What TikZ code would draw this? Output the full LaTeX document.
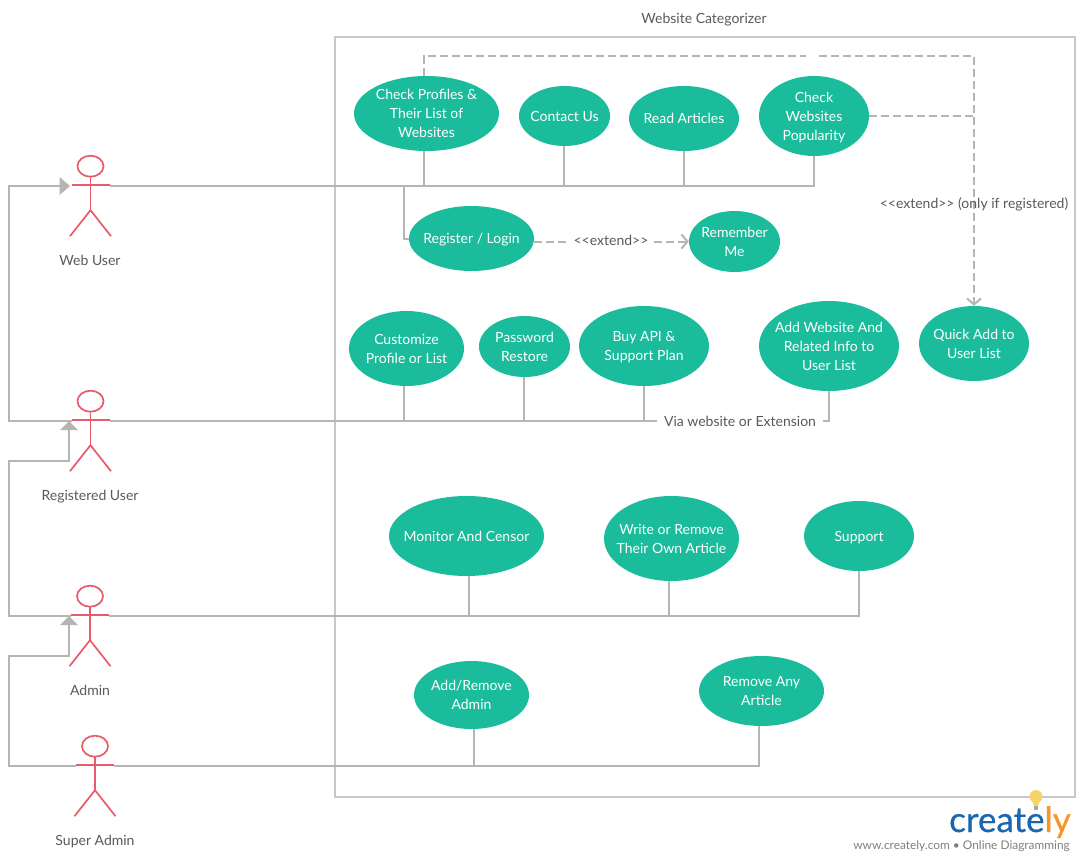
\documentclass[tikz,border=0pt]{standalone}
\usepackage{fontspec}
\setmainfont{Lato}
\newfontfamily\logofont[FakeBold=0.5]{Lato}
\usetikzlibrary{shapes.geometric,arrows.meta,calc}
\definecolor{ucgreen}{HTML}{1ABC9C}
\definecolor{linegray}{HTML}{B5B5B5}
\definecolor{framegray}{HTML}{C8C8C8}
\definecolor{actorred}{HTML}{E95A6B}
\definecolor{textgray}{HTML}{5A5A5A}
\definecolor{logoblue}{HTML}{1A66B0}
\definecolor{logoorange}{HTML}{F5962A}
\definecolor{bulb}{HTML}{F6D36B}
\newcommand{\Tx}[2]{\raisebox{0pt}[\dimexpr\height+#1pt+#1pt\relax][\depth]{\begin{tabular}{@{}c@{}}#2\end{tabular}}}
\tikzset{
  uc/.style 2 args={ellipse,fill=ucgreen,draw=none,inner sep=-25pt,minimum width=#1pt,minimum height=#2pt,
    text=white,align=center,font=\fontsize{14}{19}\selectfont},
  lbl/.style={text=textgray,inner sep=0pt,anchor=base,font=\fontsize{14}{16}\selectfont},
  conn/.style={draw=linegray,line width=2pt},
  dashconn/.style={draw=linegray,line width=2pt,dash pattern=on 8pt off 4pt},
  opentip/.style={-{Straight Barb[length=6pt,width=14pt,line width=2pt]}},
  actor/.pic={
    \draw[actorred,line width=1.7pt] (0,-18.5) ellipse [x radius=13,y radius=10.5];
    \draw[actorred,line width=1.7pt] (-19,0) -- (19,0);
    \draw[actorred,line width=1.7pt] (0,-8) -- (0,25.5);
    \draw[actorred,line width=1.7pt] (-20.5,51.5) -- (0,25.5) -- (20.5,51.5);
    \coordinate (-l) at (-19,1.3);
    \coordinate (-r) at (19,1.3);
  }
}
\begin{document}
\begin{tikzpicture}[x=1pt,y=-1pt]
\useasboundingbox (0,0) rectangle (1084,861);
\fill[white] (0,0) rectangle (1084,861);
% system frame
\node[draw=framegray,line width=2pt,inner sep=0pt,minimum width=740pt,minimum height=760pt] (frame) at (705,417) {};
\node[lbl] (title) at (704,24) {Website Categorizer};
% use cases
\node[uc={145}{75}] (cp) at (426.5,113.5) {Check Profiles \&\\Their List of\\Websites};
\node[uc={91}{60}] (cu) at (564.5,116) {Contact Us};
\node[uc={110}{65}] (ra) at (684,118.5) {Read Articles};
\node[uc={110}{80}] (cw) at (814,116) {\Tx{2}{Check\\Websites\\Popularity}};
\node[uc={125}{65}] (rl) at (471.5,238.5) {\Tx{1}{Register / Login}};
\node[uc={91}{61}] (rm) at (734.5,241.5) {Remember\\Me};
\node[uc={115}{75}] (cust) at (406.5,348.5) {Customize\\Profile or List};
\node[uc={91}{61}] (pr) at (524.5,346.5) {Password\\Restore};
\node[uc={130}{80}] (buy) at (644,346) {\Tx{1}{Buy API \&\\Support Plan}};
\node[uc={140}{90}] (add) at (829,346) {Add Website And\\Related Info to\\User List};
\node[uc={110}{75}] (qa) at (974,343.5) {Quick Add to\\User List};
\node[uc={155}{80}] (mon) at (466.5,536) {Monitor And Censor};
\node[uc={135}{85}] (wr) at (671.5,538.5) {Write or Remove\\Their Own Article};
\node[uc={110}{70}] (sup) at (859,536) {\Tx{2}{Support}};
\node[uc={115}{68}] (ara) at (471.5,695) {Add/Remove\\Admin};
\node[uc={125}{70}] (rem) at (761.5,691) {Remove Any\\Article};
% actors
\pic (web) at (90.5,184.7) {actor};
\pic (reg) at (90.5,419.7) {actor};
\pic (adm) at (90,614.7) {actor};
\pic (sa) at (95,764.7) {actor};
\node[lbl] (webl) at (90,265) {Web User};
\node[lbl] (regl) at (90,500) {Registered User};
\node[lbl] (adml) at (90,695) {Admin};
\node[lbl] (sal) at (95,845) {Super Admin};
% trunk junctions
\coordinate (w1) at (404,186);
\coordinate (w2) at (424,186);
\coordinate (w3) at (564,186);
\coordinate (w4) at (684,186);
\coordinate (w5) at (814,186);
\coordinate (r1) at (404,421);
\coordinate (r2) at (524,421);
\coordinate (r3) at (644,421);
\coordinate (r4) at (829,421);
\coordinate (a1) at (469,616);
\coordinate (a2) at (669,616);
\coordinate (a3) at (859,616);
\coordinate (s1) at (474,766);
\coordinate (s2) at (759,766);
% web user
\draw[conn] (web-r) -- (w5) -- (w5 |- cw.south);
\draw[conn] (w2) -- (w2 |- cp.south);
\draw[conn] (w3) -- (w3 |- cu.south);
\draw[conn] (w4) -- (w4 |- ra.south);
\draw[conn] (w1) |- (rl.west);
% registered user
\draw[conn] (reg-r) -- (r4) -- (r4 |- add.south);
\draw[conn] (r1) -- (r1 |- cust.south);
\draw[conn] (r2) -- (r2 |- pr.south);
\draw[conn] (r3) -- (r3 |- buy.south);
\node[lbl,fill=white,inner xsep=7pt,inner ysep=3pt] (via) at (740,426) {Via website or Extension};
% admin
\draw[conn] (adm-r) -- (a3) -- (a3 |- sup.south);
\draw[conn] (a1) -- (a1 |- mon.south);
\draw[conn] (a2) -- (a2 |- wr.south);
% super admin
\draw[conn] (sa-r) -- (s2) -- (s2 |- rem.south);
\draw[conn] (s1) -- (s1 |- ara.south);
% generalisations
\coordinate (gw) at (60,186);
\coordinate (gr) at (69,430);
\coordinate (ga) at (69,625);
\draw[conn] (reg-l) -- (9,421) -- (9,186) -- (gw);
\fill[linegray] (59.5,177) -- (70,186) -- (59.5,195) -- cycle;
\draw[conn] (adm-l) -- (9,616) -- (9,461) -- (69,461) -- (gr);
\fill[linegray] (60,430) -- (69,421) -- (78,430) -- cycle;
\draw[conn] (sa-l) -- (9,766) -- (9,656) -- (69,656) -- (ga);
\fill[linegray] (60,625) -- (69,616) -- (78,625) -- cycle;
% extends
\coordinate (d1) at (424,56);
\coordinate (d2) at (806,56);
\coordinate (d3) at (819,56);
\coordinate (d4) at (974,56);
\coordinate (d5) at (974,116);
\draw[dashconn] (cp.north -| d1) -- (d1) -- (d2);
\draw[dashconn,opentip] (d3) -- (d4) -- (qa.north);
\draw[dashconn] (cw.east) -- (d5);
\draw[dashconn,opentip] (rl.east |- rm.west) -- (rm.west);
\node[lbl,fill=white,inner xsep=6pt,inner ysep=3pt] (ext) at (611,245) {<{}<extend>{}>};
\node[lbl] (ext2) at (974,208) {<{}<extend>{}> (only if registered)};
% logo
\fill[bulb] (1036,796.5) circle [radius=6.5];
\fill[bulb] (1031.5,799) -- (1040.5,799) -- (1038,806) -- (1034,806) -- cycle;
\fill[gray!70] (1034,806) rectangle (1038,810);
\node[inner sep=0pt,anchor=base east,font=\fontsize{35}{35}\logofont] (logo) at (1071,832) {\textcolor{logoblue}{create}\textcolor{logoorange}{ly}};
\node[inner sep=0pt,anchor=base east,text=gray,font=\fontsize{11.9}{14}\selectfont] (url) at (1070,849) {www.creately.com • Online Diagramming};
\end{tikzpicture}
\end{document}
